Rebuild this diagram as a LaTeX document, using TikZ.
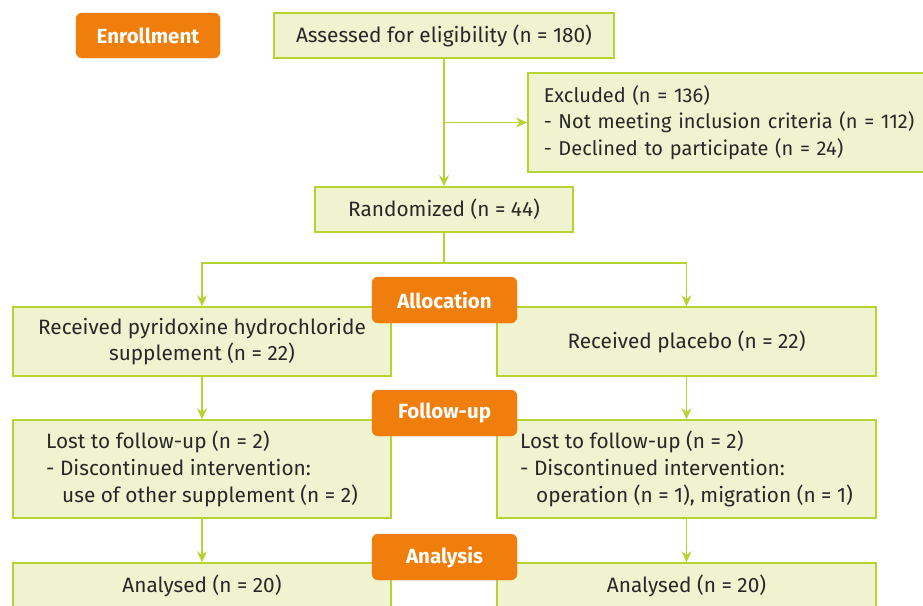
\documentclass[tikz,border=0pt]{standalone}
\usepackage{fontspec}
\setmainfont{Fira Sans}
\usepackage{xcolor}
\usepackage{tikz}
\usetikzlibrary{
    positioning,
    arrows.meta,
    calc
}
\definecolor{flowGreen}{RGB}{181, 212, 52}
\definecolor{flowFill}{RGB}{239, 243, 208}
\definecolor{flowOrange}{RGB}{240, 126, 12}
\definecolor{flowText}{RGB}{40, 40, 40}

\tikzset{
    stagebox/.style={fill=flowOrange, draw=flowOrange, rounded corners=6pt, text=white,
        font=\fontsize{20.5}{24}\selectfont\bfseries, minimum width=145pt, minimum height=46pt, inner sep=0pt},
    greenbox/.style={fill=flowFill, draw=flowGreen, line width=1.5pt, text=flowText,
        font=\fontsize{20.8}{26.7}\selectfont, align=center, inner sep=0pt},
    arr/.style={draw=flowGreen, line width=1.5pt, -{Stealth[length=11pt, width=10pt]}},
    lin/.style={draw=flowGreen, line width=1.5pt}
}

\begin{document}
\begin{tikzpicture}[x=1pt, y=-1pt]
            \clip (0,0) rectangle (923,605);
            \useasboundingbox (0,0) rectangle (923,605);

            \node[greenbox, minimum width=340pt, minimum height=45pt] (assess) at (444,35.5) {Assessed for eligibility (n = 180)};
            \node[greenbox, anchor=west, align=left, minimum width=420pt, minimum height=99pt, text width=388pt, inner xsep=15pt,
                font=\fontsize{20}{26.7}\selectfont] (excl) at (527,122.5)
                {Excluded (n = 136)\\- Not meeting inclusion criteria (n = 112)\\- Declined to participate (n = 24)};
            \node[greenbox, minimum width=258pt, minimum height=45pt] (rand) at (444,209.5) {Randomized (n = 44)};

            \node[greenbox, minimum width=378pt, minimum height=69pt] (pyrid) at (202,341.5) {Received pyridoxine hydrochloride\\supplement (n = 22)};
            \node[greenbox, minimum width=379pt, minimum height=69pt] (placebo) at (686.5,341.5) {Received placebo (n = 22)};

            \node[greenbox, align=left, minimum width=378pt, minimum height=98pt] (lostA) at (202,469)
                {Lost to follow-up (n = 2)\\- Discontinued intervention:\\\hspace*{16pt}use of other supplement (n = 2)};
            \node[greenbox, align=left, minimum width=379pt, minimum height=98pt] (lostB) at (686.5,469)
                {Lost to follow-up (n = 2)\\- Discontinued intervention:\\\hspace*{16pt}operation (n = 1), migration (n = 1)};

            \node[greenbox, minimum width=378pt, minimum height=46pt] (anaA) at (202,586) {Analysed (n = 20)};
            \node[greenbox, minimum width=379pt, minimum height=46pt] (anaB) at (686.5,586) {Analysed (n = 20)};

            % connectors
            \coordinate (branch) at (assess.south |- excl.west);
            \coordinate (split) at ($(rand.south)+(0,30)$);
            \draw[arr] (assess.south) -- (rand.north);
            \draw[arr] (branch) -- (excl.west);
            \draw[lin] (rand.south) -- (split);
            \draw[arr] (split) -| (pyrid.north);
            \draw[arr] (split) -| (placebo.north);
            \draw[arr] (pyrid.south) -- (lostA.north);
            \draw[arr] (placebo.south) -- (lostB.north);
            \draw[arr] (lostA.south) -- (anaA.north);
            \draw[arr] (lostB.south) -- (anaB.north);

            % stage labels
            \node[stagebox, minimum width=144pt, minimum height=45pt] (enroll) at (148,35.5) {Enrollment};
            \node[stagebox] (alloc) at (444.5,300) {Allocation};
            \node[stagebox] (follow) at (444.5,413) {Follow-up};
            \node[stagebox] (analysis) at (444.5,557) {Analysis};
        \end{tikzpicture}
\end{document}
